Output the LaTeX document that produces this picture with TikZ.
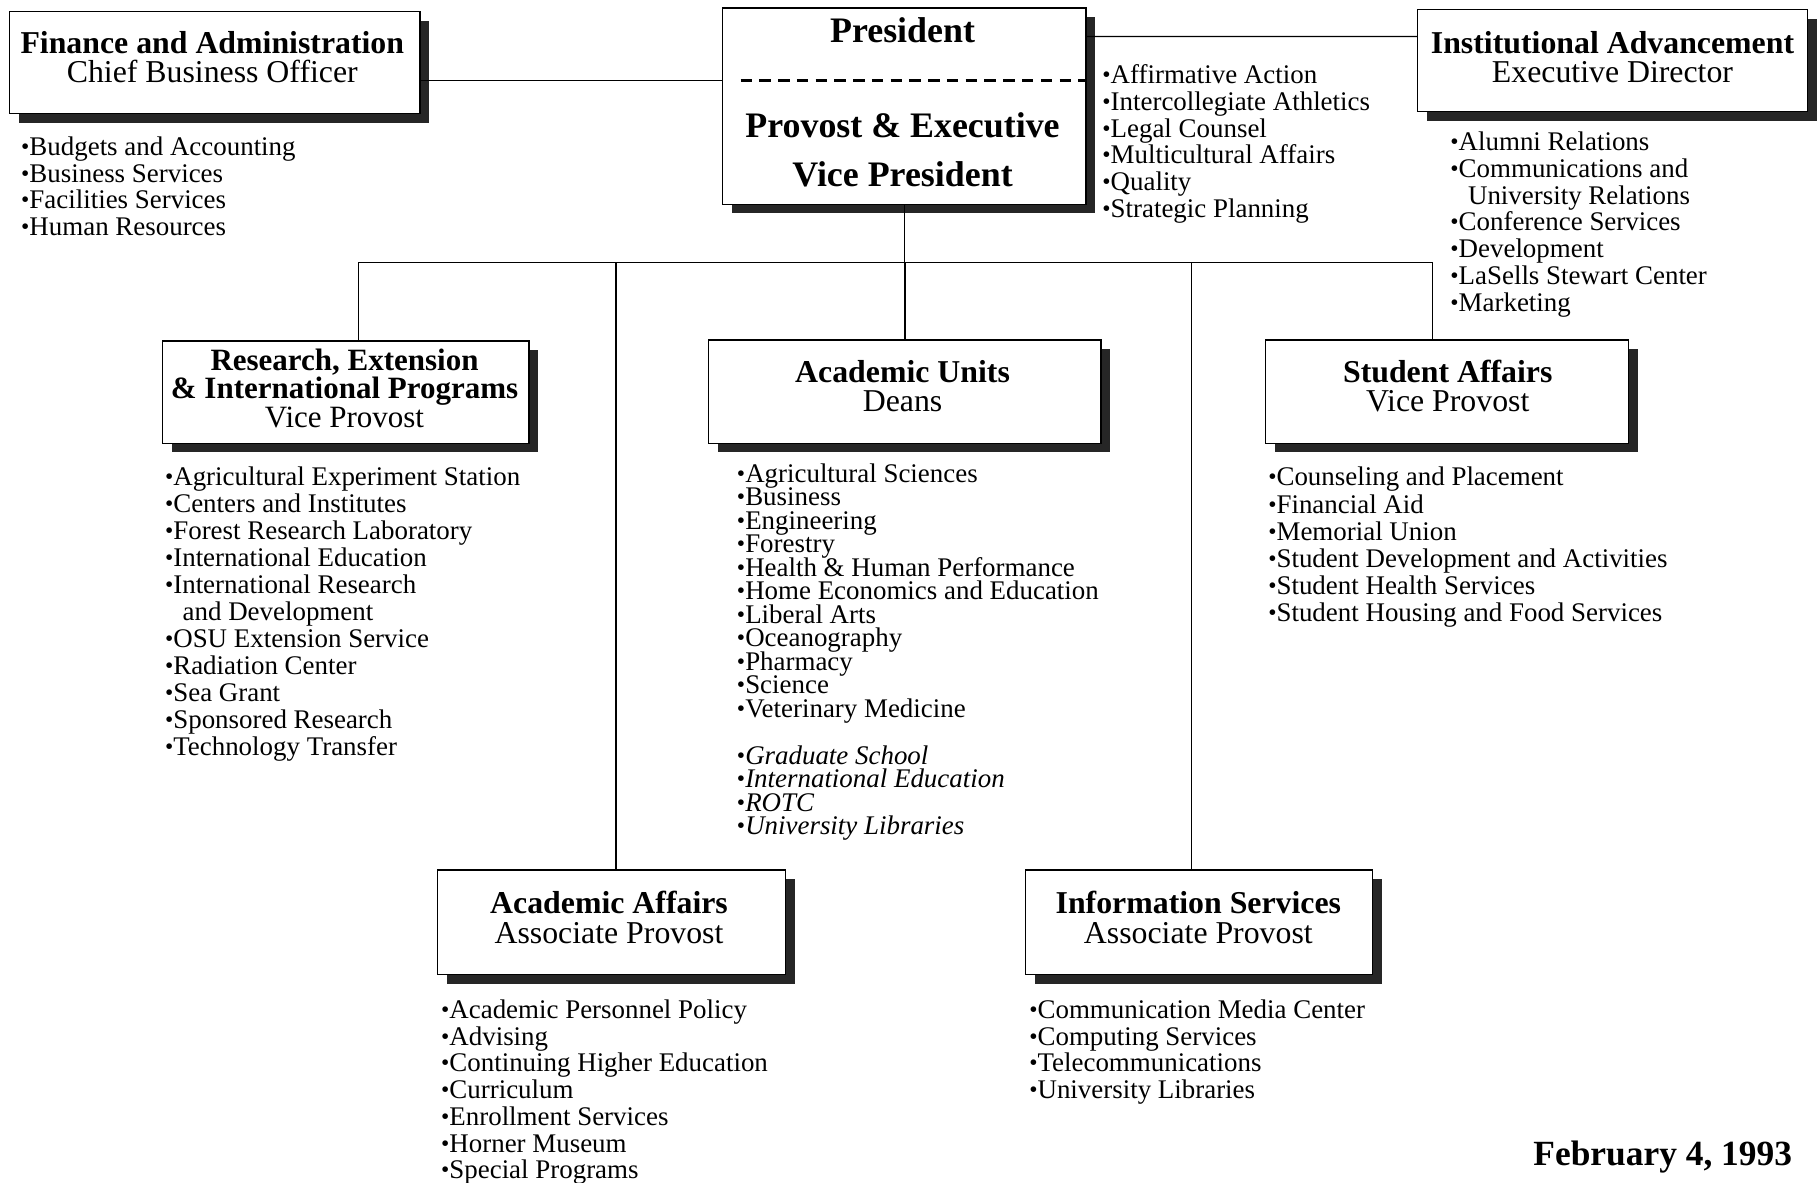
\documentclass[tikz,border=0pt]{standalone}
\usepackage{fontspec}
\setmainfont{Liberation Serif}
\usepackage{tikz}
\usetikzlibrary{positioning, shadows}

\newcommand{\headfnt}{\fontsize{19.5}{18}\selectfont\lineskiplimit=-50pt\relax}
\newcommand{\presfnt}{\fontsize{22}{29.8}\selectfont\lineskiplimit=-50pt\relax}
\newcommand{\listfnt}{\fontsize{16.5}{16.4}\selectfont\lineskiplimit=-50pt\relax}
\newcommand{\blt}{{\fontsize{14.5}{14}\selectfont\raisebox{0.6pt}{•}}}

\tikzset{
    orgbox/.style={draw, fill=white, line width=0.8pt, inner sep=0pt,
        drop shadow={shadow xshift=0.2cm, shadow yshift=-0.2cm, fill=black!85, opacity=1}},
    head/.style={align=center, inner sep=0pt, font=\headfnt},
    lst/.style={align=left, anchor=north west, inner sep=0pt, font=\listfnt},
    link/.style={line width=0.8pt}
}

\begin{document}
\begin{tikzpicture}[x=0.025cm, y=-0.025cm]
            \useasboundingbox (0,0) rectangle (1568,1019);

            \node[orgbox, minimum width=8.85cm, minimum height=2.2cm] (fin) at (185,54) {};
            \node[orgbox, minimum width=7.825cm, minimum height=4.225cm] (pres) at (779.5,91.5) {};
            \node[orgbox, minimum width=8.4cm, minimum height=2.2cm] (ia) at (1390,52) {};
            \node[orgbox, minimum width=7.9cm, minimum height=2.2cm] (rsch) at (298,338) {};
            \node[orgbox, minimum width=8.45cm, minimum height=2.225cm] (au) at (780,337.5) {};
            \node[orgbox, minimum width=7.825cm, minimum height=2.225cm] (stu) at (1247.5,337.5) {};
            \node[orgbox, minimum width=7.5cm, minimum height=2.25cm] (aa) at (527,795) {};
            \node[orgbox, minimum width=7.475cm, minimum height=2.25cm] (is) at (1033.5,795) {};

            \coordinate (dl) at ([yshift=-1.575cm]pres.north west);
            \coordinate (bus) at (778,226);
            \draw[line width=1.4pt, dash pattern=on 7pt off 4.5pt] ([xshift=0.4cm]dl) -- (dl -| pres.east);
            \draw[link] (fin.east |- dl) -- (dl);
            \draw[link] ([yshift=-0.625cm]pres.north east) -- ([yshift=-0.6cm]ia.north west);
            \draw[link] (pres.south) -- (pres.south |- bus);
            \draw[link] ([xshift=0.275cm]rsch.north) |- (bus) -| ([xshift=-0.31cm]stu.north);
            \draw[link] (au.north) -- (au.north |- bus);
            \draw[link] ([xshift=0.1cm]aa.north) -- ([xshift=0.1cm]aa.north |- bus);
            \draw[link] ([xshift=-0.16cm]is.north) -- ([xshift=-0.16cm]is.north |- bus);

            \node[head] (finT) at (183,49.5) {\textbf{Finance and Administration}\\Chief Business Officer};
            \node[head, font=\presfnt\bfseries] (presT) at (778,26) {President};
            \node[head, font=\presfnt\bfseries] (provT) at (778,129) {Provost \& Executive\\Vice President};
            \node[head] (iaT) at (1390,49) {\textbf{Institutional Advancement}\\Executive Director};
            \node[head, font={\fontsize{19}{17.5}\selectfont\lineskiplimit=-50pt}] (rschT) at (297,334.5) {\textbf{Research, Extension}\\\textbf{\& International Programs}\\Vice Provost};
            \node[head] (auT) at (778,333) {\textbf{Academic Units}\\Deans};
            \node[head] (stuT) at (1248,333) {\textbf{Student Affairs}\\Vice Provost};
            \node[head] (aaT) at (525,791) {\textbf{Academic Affairs}\\Associate Provost};
            \node[head] (isT) at (1033,791) {\textbf{Information Services}\\Associate Provost};

            \node[lst] (finL) at (18,117.5) {\blt Budgets and Accounting\\\blt Business Services\\\blt Facilities Services\\\blt Human Resources};
            \node[lst] (presL) at (950,55.5) {\blt Affirmative Action\\\blt Intercollegiate Athletics\\\blt Legal Counsel\\\blt Multicultural Affairs\\\blt Quality\\\blt Strategic Planning};
            \node[lst] (iaL) at (1250,113.5) {\blt Alumni Relations\\\blt Communications and\\\hspace*{0.38cm}University Relations\\\blt Conference Services\\\blt Development\\\blt LaSells Stewart Center\\\blt Marketing};
            \node[lst, font={\fontsize{16.5}{16.5}\selectfont\lineskiplimit=-50pt}] (rschL) at (142,402.5) {\blt Agricultural Experiment Station\\\blt Centers and Institutes\\\blt Forest Research Laboratory\\\blt International Education\\\blt International Research\\\hspace*{0.38cm}and Development\\\blt OSU Extension Service\\\blt Radiation Center\\\blt Sea Grant\\\blt Sponsored Research\\\blt Technology Transfer};
            \node[lst, font={\fontsize{16.5}{14.4}\selectfont\lineskiplimit=-50pt}] (auL) at (635,399.5) {\blt Agricultural Sciences\\\blt Business\\\blt Engineering\\\blt Forestry\\\blt Health \& Human Performance\\\blt Home Economics and Education\\\blt Liberal Arts\\\blt Oceanography\\\blt Pharmacy\\\blt Science\\\blt Veterinary Medicine\\[14.4pt]\blt\textit{Graduate School}\\\blt\textit{International Education}\\\blt\textit{ROTC}\\\blt\textit{University Libraries}};
            \node[lst, font={\fontsize{16.5}{16.6}\selectfont\lineskiplimit=-50pt}] (stuL) at (1093,402.5) {\blt Counseling and Placement\\\blt Financial Aid\\\blt Memorial Union\\\blt Student Development and Activities\\\blt Student Health Services\\\blt Student Housing and Food Services};
            \node[lst] (aaL) at (380,861.5) {\blt Academic Personnel Policy\\\blt Advising\\\blt Continuing Higher Education\\\blt Curriculum\\\blt Enrollment Services\\\blt Horner Museum\\\blt Special Programs};
            \node[lst] (isL) at (887,861.5) {\blt Communication Media Center\\\blt Computing Services\\\blt Telecommunications\\\blt University Libraries};

            \node[anchor=east, inner sep=0pt, font=\fontsize{21.7}{21}\selectfont\bfseries] (date) at (1545,997) {February 4, 1993};
        \end{tikzpicture}
\end{document}
